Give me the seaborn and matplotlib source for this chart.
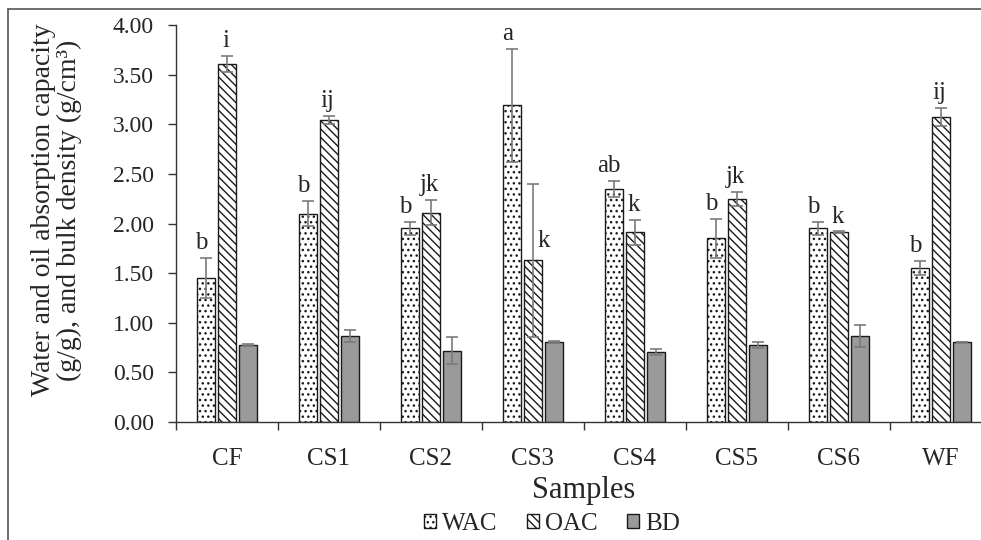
import numpy as np
import pandas as pd
import matplotlib
matplotlib.use("Agg")
import matplotlib.pyplot as plt
import seaborn as sns
from matplotlib.lines import Line2D
from matplotlib.patches import Patch
from matplotlib.ticker import FixedLocator, FormatStrFormatter

samples = ["CF", "CS1", "CS2", "CS3", "CS4", "CS5", "CS6", "WF"]
series = ["WAC", "OAC", "BD"]
wac = [1.45, 2.10, 1.95, 3.19, 2.35, 1.85, 1.95, 1.55]
wac_err = [0.20, 0.13, 0.07, 0.57, 0.08, 0.20, 0.07, 0.07]
oac = [3.61, 3.04, 2.11, 1.63, 1.91, 2.25, 1.91, 3.07]
oac_err = [0.08, 0.04, 0.13, 0.77, 0.13, 0.07, 0.01, 0.09]
bd = [0.78, 0.87, 0.72, 0.81, 0.71, 0.78, 0.87, 0.81]
bd_err = [0.01, 0.06, 0.14, 0.01, 0.03, 0.03, 0.11, 0.0]
wac_letters = ["b", "b", "b", "a", "ab", "b", "b", "b"]
oac_letters = ["i", "ij", "jk", "k", "k", "jk", "k", "ij"]
yticks = [0.0, 0.5, 1.0, 1.5, 2.0, 2.5, 3.0, 3.5, 4.0]

values = {"WAC": wac, "OAC": oac, "BD": bd}
errors = {"WAC": wac_err, "OAC": oac_err, "BD": bd_err}
letters = {"WAC": wac_letters, "OAC": oac_letters}
letter_dx = {"WAC": -0.045, "OAC": -0.015}

df = pd.DataFrame({
    "Sample": samples * 3,
    "Series": [s for s in series for _ in samples],
    "Value": wac + oac + bd,
})

sns.set_style("ticks")
plt.rcParams["font.family"] = ["Liberation Serif", "DejaVu Serif"]
plt.rcParams["hatch.linewidth"] = 1.0
plt.rcParams["hatch.color"] = "black"

W, H = 981, 540
fig = plt.figure(figsize=(W / 100, H / 100), dpi=100)
ax = fig.add_axes([176 / W, (H - 422) / H, 816 / W, 397 / H])

sns.barplot(data=df, x="Sample", y="Value", hue="Series", order=samples,
            hue_order=series, width=0.62, gap=0.15, errorbar=None,
            legend=False, ax=ax)

styles = {
    "WAC": dict(facecolor="white", hatch="..."),
    "OAC": dict(facecolor="white", hatch="\\\\\\\\"),
    "BD": dict(facecolor="#9a9a9a", hatch=None),
}

for s, cont in zip(series, ax.containers):
    xs = []
    for bar in cont:
        bar.set_facecolor(styles[s]["facecolor"])
        bar.set_edgecolor("#1a1a1a")
        bar.set_linewidth(1.0)
        if styles[s]["hatch"]:
            bar.set_hatch(styles[s]["hatch"])
        xs.append(bar.get_x() + bar.get_width() / 2)
    ax.errorbar(xs, values[s], yerr=errors[s], fmt="none", ecolor="#7a7a7a",
                elinewidth=1.2, capsize=4.5, capthick=1.2, zorder=5)
    if s in letters:
        for x, v, e, t in zip(xs, values[s], errors[s], letters[s]):
            if e > 0.5 and s == "OAC":
                ax.text(x + 0.105, v + 0.13, t, ha="center", va="baseline", fontsize=18)
            else:
                ax.text(x + letter_dx[s], v + e + 0.09, t, ha="center",
                        va="baseline", fontsize=18)

ax.set_ylim(0, 4.0)
ax.set_xlim(-0.5, 7.5)
ax.yaxis.set_major_locator(FixedLocator(yticks))
ax.yaxis.set_major_formatter(FormatStrFormatter("%.2f"))
ax.set_xticks(range(len(samples)))
ax.set_xticklabels(samples)
ax.xaxis.set_minor_locator(FixedLocator(np.arange(-0.5, 8.0, 1.0)))
ax.tick_params(axis="x", which="major", length=0, pad=19, labelsize=18)
ax.tick_params(axis="x", which="minor", length=6, width=1.0, color="#333333")
ax.tick_params(axis="y", which="major", length=6, width=1.0, color="#333333",
               labelsize=17, pad=10)
for sp in ["top", "right"]:
    ax.spines[sp].set_visible(False)
for sp in ["left", "bottom"]:
    ax.spines[sp].set_color("#333333")
    ax.spines[sp].set_linewidth(1.0)

ax.set_xlabel("")
ax.set_ylabel("")
fig.text(584 / W, 1 - 498 / H, "Samples", ha="center", va="baseline", fontsize=22)
fig.text(82 / W, 1 - 210 / H,
         "Water and oil absorption capacity\n(g/g), and bulk density (g/cm³)",
         ha="right", va="center", rotation=90, rotation_mode="default",
         fontsize=20, linespacing=1.05, multialignment="center")

handles = [Patch(facecolor=styles[s]["facecolor"], edgecolor="#1a1a1a",
                 hatch=styles[s]["hatch"], label=s) for s in series]
fig.legend(handles=handles, loc="center", bbox_to_anchor=(552 / W, 1 - 524 / H),
           ncol=3, frameon=False, fontsize=18, handlelength=0.45, handleheight=0.45,
           handletextpad=0.25, columnspacing=1.2, borderpad=0.0)

fig.add_artist(Line2D([8 / W, 1], [1 - 9 / H, 1 - 9 / H], transform=fig.transFigure,
                      color="#555555", lw=1.2))
fig.add_artist(Line2D([8 / W, 8 / W], [0, 1 - 9 / H], transform=fig.transFigure,
                      color="#555555", lw=1.2))

fig.savefig("out.png", dpi=100)
